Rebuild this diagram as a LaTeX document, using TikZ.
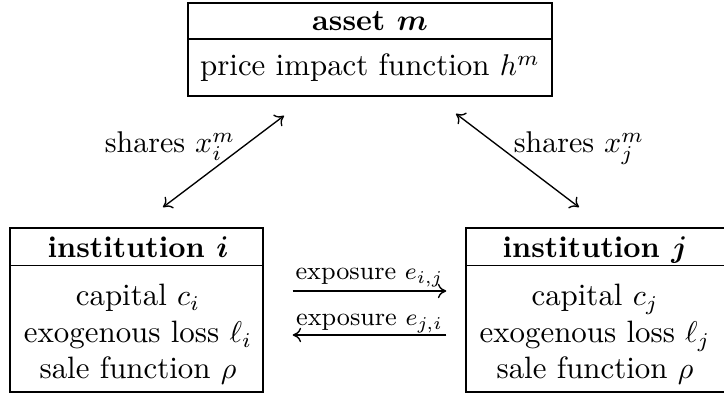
\documentclass[tikz,border=0pt]{standalone}
\usepackage{fontspec}
\usepackage{amsmath}
\usetikzlibrary{arrows.meta}
\newcommand{\bsym}[1]{\boldsymbol{#1}}
\begin{document}
\begin{tikzpicture}[x=0.33333pt,y=-0.33333pt,
  boxnode/.style={draw,line width=0.5pt,inner sep=0pt,anchor=center},
  txt/.style={anchor=base,inner sep=0pt,font=\fontsize{10}{12}\selectfont},
  rowtxt/.style={anchor=base,inner sep=0pt,font=\fontsize{10.3}{12}\selectfont},
  smalltxt/.style={anchor=base,inner sep=0pt,font=\fontsize{8.5}{10}\selectfont},
  tip/.style={arrows={-{To[length=2.8pt,width=4.8pt]}}},
  conn/.style={line width=0.45pt,arrows={{To[length=2.8pt,width=4.8pt]}-{To[length=2.8pt,width=4.8pt]}}}]
\useasboundingbox (0,0) rectangle (724,399);
% boxes
\node[boxnode,minimum width=121.33pt,minimum height=31pt] (asset) at (370,49.5) {};
\node[boxnode,minimum width=84.33pt,minimum height=54.67pt] (insti) at (136.5,310) {};
\node[boxnode,minimum width=87.33pt,minimum height=54.67pt] (instj) at (597,310) {};
% dividers
\draw[line width=0.5pt] ([yshift=-12.33pt]asset.north west) -- ([yshift=-12.33pt]asset.north east);
\draw[line width=0.5pt] ([yshift=-12.67pt]insti.north west) -- ([yshift=-12.67pt]insti.north east);
\draw[line width=0.5pt] ([yshift=-12.67pt]instj.north west) -- ([yshift=-12.67pt]instj.north east);
% texts
\node[txt] (assetT) at (370,31) {\bfseries asset $\bsym{m}$};
\node[rowtxt] (assetH) at (370,76) {price impact function $h^m$};
\node[txt] (instiT) at (138,258) {\bfseries institution $\bsym{i}$};
\node[rowtxt] (instiC) at (138,306) {capital $c_i$};
\node[rowtxt] (instiL) at (138,343) {exogenous loss $\ell_i$};
\node[rowtxt] (instiR) at (138,379) {sale function $\rho$};
\node[txt] (instjT) at (595,258) {\bfseries institution $\bsym{j}$};
\node[rowtxt] (instjC) at (595,306) {capital $c_j$};
\node[rowtxt] (instjL) at (595,343) {exogenous loss $\ell_j$};
\node[rowtxt] (instjR) at (595,379) {sale function $\rho$};
% connectors
\draw[conn] ([shift={(26.5,-20)}]insti.north) -- ([shift={(-86,19)}]asset.south);
\draw[conn] ([shift={(86,17)}]asset.south) -- ([shift={(-18,-20)}]instj.north);
\draw[line width=0.45pt,tip] ([shift={(29,-19)}]insti.east) -- ([shift={(-19,-19)}]instj.west);
\draw[line width=0.45pt,tip] ([shift={(-19,25)}]instj.west) -- ([shift={(29,25)}]insti.east);
% labels
\node[txt] (shi) at (170,153) {shares $x_i^m$};
\node[txt] (shj) at (579,153) {shares $x_j^m$};
\node[smalltxt] (eij) at (369.5,280) {exposure $e_{i,j}$};
\node[smalltxt] (eji) at (369.5,326) {exposure $e_{j,i}$};
\end{tikzpicture}
\end{document}
